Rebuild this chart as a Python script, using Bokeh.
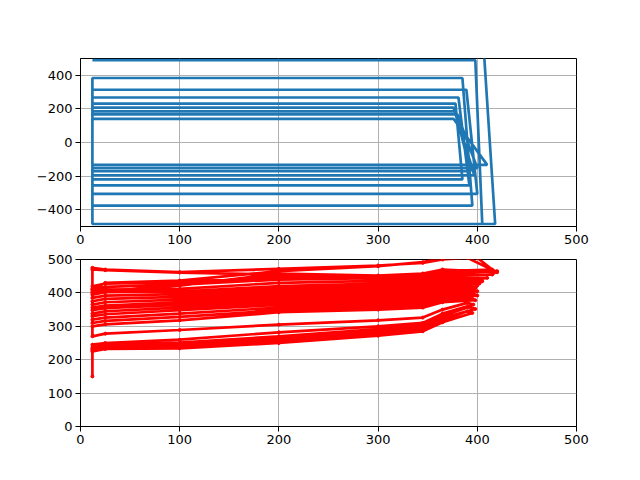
from bokeh.plotting import figure
from bokeh.layouts import column
from bokeh.models import Range1d, FixedTicker
from bokeh.embed import file_html
from bokeh.resources import INLINE

# ---- top panel: scan pattern (blue) ----
left_x = 12
pos_y = [490, 384, 314, 268, 231, 207, 185, 167, 141]
pos_right_x = [398, 385, 389, 381, 378, 376, 378, 380, 376]
neg_y = [-485, -376, -306, -255, -219, -195, -171, -153, -133]
neg_right_x = [405, 395, 400, 392, 385, 397, 393, 400, 410]
tail_x = [418, 406]
tail_y = [-485, 600]

# ---- bottom panel: trajectories (red) ----
stations_x = [12, 25, 100, 200, 300, 345, 365]
strands_y = [
    [225, 232, 234, 250, 272, 285, 312],
    [228, 236, 240, 256, 278, 290, 318],
    [232, 240, 246, 262, 284, 296, 325],
    [236, 244, 251, 270, 292, 302, 332],
    [245, 250, 260, 282, 300, 310, 338],
    [270, 278, 289, 305, 318, 326, 350],
    [300, 306, 318, 342, 350, 356, 372],
    [310, 316, 328, 348, 358, 364, 378],
    [320, 326, 338, 356, 366, 372, 385],
    [330, 336, 348, 364, 374, 380, 392],
    [338, 345, 356, 372, 382, 388, 398],
    [348, 354, 364, 380, 390, 396, 405],
    [356, 362, 372, 388, 398, 404, 412],
    [365, 372, 380, 396, 405, 410, 418],
    [375, 382, 388, 404, 412, 418, 425],
    [385, 392, 396, 412, 420, 426, 432],
    [395, 402, 404, 420, 428, 434, 440],
    [405, 410, 412, 430, 436, 440, 448],
    [412, 418, 425, 440, 444, 448, 455],
    [420, 428, 432, 448, 448, 452, 460],
    [470, 468, 461, 455, 446, 452, 465],
    [410, 430, 437, 465, 480, 492, 505],
    [475, 470, 462, 472, 482, 490, 500],
    [400, 405, 422, 458, 452, 458, 470],
]
strands_end_x = [395, 390, 398, 392, 396, 390, 398, 394, 400, 396, 400, 395,
                 398, 400, 402, 405, 398, 410, 415, 420, 415, 400, 390, 420]
strands_end_y = [340, 345, 352, 358, 365, 370, 378, 385, 392, 398, 405, 410,
                 415, 422, 428, 435, 440, 445, 455, 465, 470, 505, 505, 462]
start_x = [12]
start_y = [150]

# build the top path
tx, ty = [], []
for i in range(len(pos_y)):
    tx += [left_x, pos_right_x[i], neg_right_x[i], left_x]
    ty += [pos_y[i], pos_y[i], neg_y[i], neg_y[i]]
tx += [left_x] + tail_x
ty += [neg_y[0]] + tail_y

# build the bottom path
bx, by = list(start_x), list(start_y)
for i, ys in enumerate(strands_y):
    xs = stations_x + [strands_end_x[i]]
    yy = ys + [strands_end_y[i]]
    if i % 2 == 1:
        xs = xs[::-1]
        yy = yy[::-1]
    bx += xs
    by += yy

FONT = "DejaVu Sans"


def style(p):
    p.outline_line_color = "black"
    p.outline_line_width = 1
    p.outline_line_alpha = 1
    for ax in (p.xaxis, p.yaxis):
        ax.axis_line_color = "black"
        ax.major_tick_line_color = "black"
        ax.minor_tick_line_color = None
        ax.major_tick_out = 5
        ax.major_tick_in = 0
        ax.major_label_text_font = FONT
        ax.major_label_text_font_size = "13px"
        ax.major_label_text_color = "black"
        ax.major_label_standoff = 3
    p.grid.grid_line_color = "#b0b0b0"
    p.grid.grid_line_width = 1
    p.background_fill_color = "white"
    p.border_fill_color = "white"


p1 = figure(frame_width=496, frame_height=168, output_backend="svg",
            toolbar_location=None, x_range=Range1d(0, 500), y_range=Range1d(-500, 500),
            min_border_left=80, min_border_top=58, min_border_bottom=22, min_border_right=56)
p1.line(tx, ty, line_color="#1f77b4", line_width=2.7)
p1.xaxis.ticker = FixedTicker(ticks=[0, 100, 200, 300, 400, 500])
p1.yaxis.ticker = FixedTicker(ticks=[-400, -200, 0, 200, 400])
style(p1)

p2 = figure(frame_width=496, frame_height=167, output_backend="svg",
            toolbar_location=None, x_range=Range1d(0, 500), y_range=Range1d(0, 500),
            min_border_left=80, min_border_top=11, min_border_bottom=30, min_border_right=56)
p2.line(bx, by, line_color="red", line_width=2.7)
p2.scatter(bx, by, size=3, color="red")
p2.xaxis.ticker = FixedTicker(ticks=[0, 100, 200, 300, 400, 500])
p2.yaxis.ticker = FixedTicker(ticks=[0, 100, 200, 300, 400, 500])
style(p2)

layout = column(p1, p2, spacing=0)
open("out.html", "w").write(file_html(layout, INLINE))
